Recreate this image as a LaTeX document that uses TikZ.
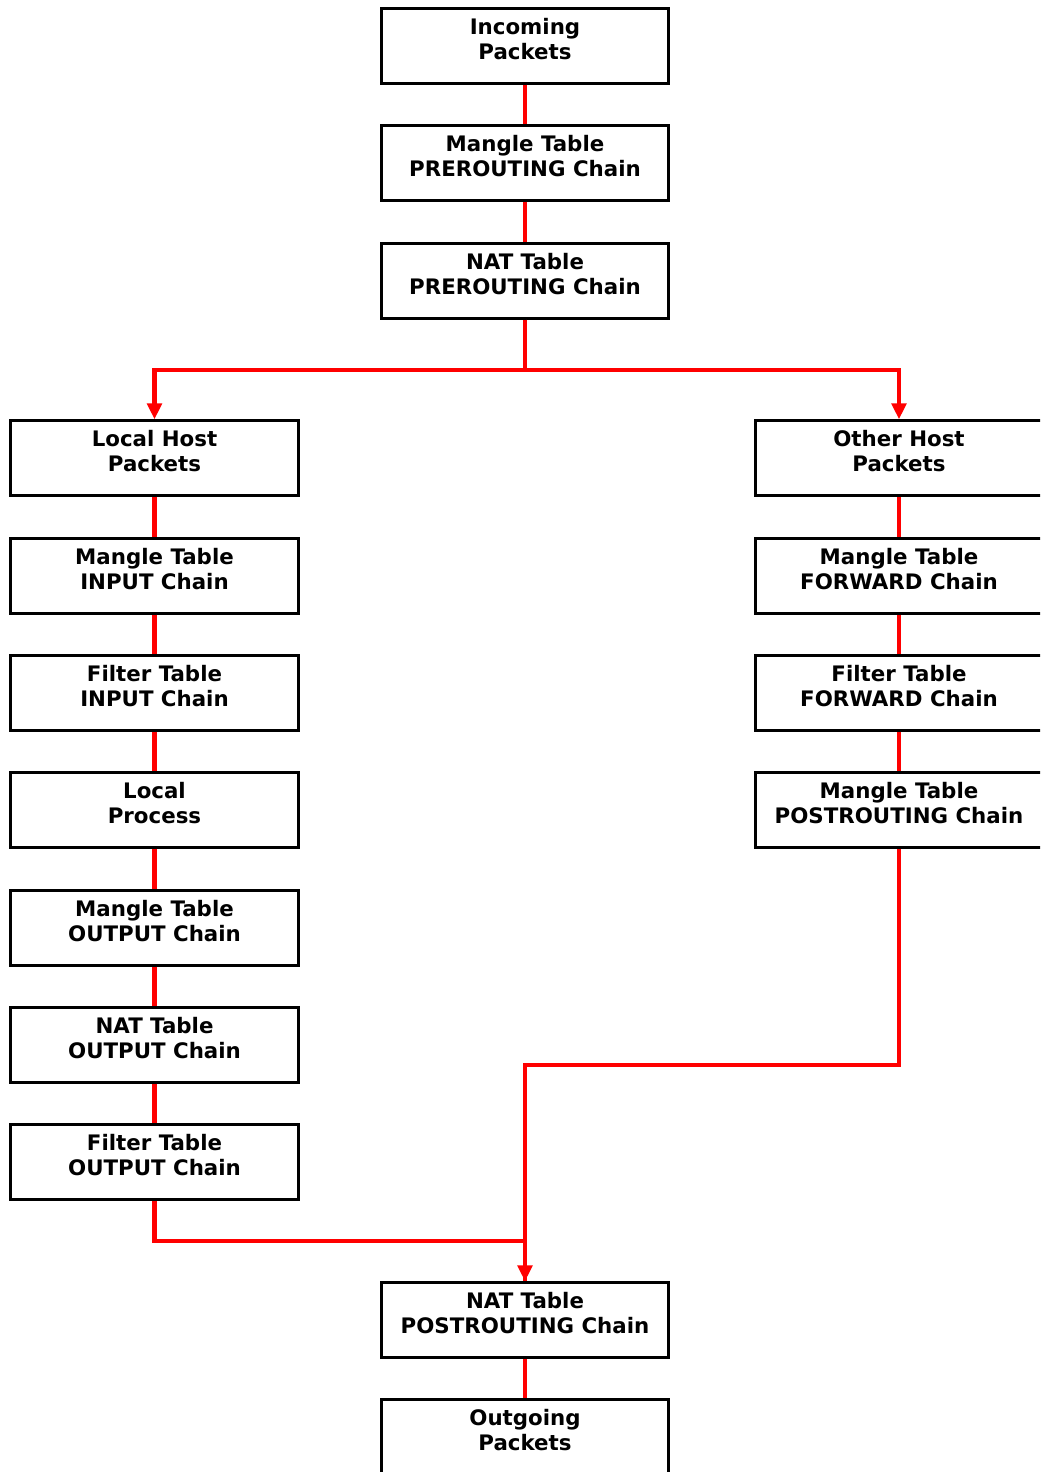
\documentclass[tikz,border=0pt]{standalone}
\usepackage{fontspec}
\setmainfont{DejaVu Sans}
\usetikzlibrary{arrows.meta}

\begin{document}
\begin{tikzpicture}[x=0.75pt, y=-0.75pt,
  box/.style={draw, line width=2.1pt, minimum width=215.5pt, inner sep=0pt,
    text height=19pt, text depth=37pt,
    font=\bfseries\fontsize{16}{18.75}\selectfont},
  flow/.style={red, line width=3.1pt},
  tip/.style={-{Triangle[width=11pt,length=12pt]}}]
  \newcommand{\twolines}[2]{\begin{tabular}[t]{@{}c@{}}#1\\#2\end{tabular}}
  \clip (0,0) rectangle (1040,1472);

  % main column
  \node[box] (inpk)    at (525,46)   {\twolines{Incoming}{Packets}};
  \node[box] (mpre)    at (525,163)  {\twolines{Mangle Table}{PREROUTING Chain}};
  \node[box] (npre)    at (525,281)  {\twolines{NAT Table}{PREROUTING Chain}};
  \node[box] (npost)   at (525,1320) {\twolines{NAT Table}{POSTROUTING Chain}};
  \node[box] (outpk)   at (525,1437) {\twolines{Outgoing}{Packets}};

  % local host side
  \node[box] (lhost)   at (154.5,458)  {\twolines{Local Host}{Packets}};
  \node[box] (min)     at (154.5,576)  {\twolines{Mangle Table}{INPUT Chain}};
  \node[box] (fin)     at (154.5,693)  {\twolines{Filter Table}{INPUT Chain}};
  \node[box] (lproc)   at (154.5,810)  {\twolines{Local}{Process}};
  \node[box] (mout)    at (154.5,928)  {\twolines{Mangle Table}{OUTPUT Chain}};
  \node[box] (nout)    at (154.5,1045) {\twolines{NAT Table}{OUTPUT Chain}};
  \node[box] (fout)    at (154.5,1162) {\twolines{Filter Table}{OUTPUT Chain}};

  % other host side
  \node[box] (ohost)   at (899,458) {\twolines{Other Host}{Packets}};
  \node[box] (mfwd)    at (899,576) {\twolines{Mangle Table}{FORWARD Chain}};
  \node[box] (ffwd)    at (899,693) {\twolines{Filter Table}{FORWARD Chain}};
  \node[box] (mpost)   at (899,810) {\twolines{Mangle Table}{POSTROUTING Chain}};

  \draw[flow] (inpk) -- (mpre);
  \draw[flow] (mpre) -- (npre);
  \draw[flow] (npost) -- (outpk);
  \draw[flow, tip] (npre.south) -- ++(0,50) -| (lhost.north);
  \draw[flow, tip] (npre.south) -- ++(0,50) -| (ohost.north);

  \draw[flow] (lhost) -- (min);
  \draw[flow] (min) -- (fin);
  \draw[flow] (fin) -- (lproc);
  \draw[flow] (lproc) -- (mout);
  \draw[flow] (mout) -- (nout);
  \draw[flow] (nout) -- (fout);

  \draw[flow] (ohost) -- (mfwd);
  \draw[flow] (mfwd) -- (ffwd);
  \draw[flow] (ffwd) -- (mpost);

  \draw[flow] (fout.south) -- ++(0,40) -| (npost.north);
  \draw[flow, tip] (mpost.south) -- ++(0,216) -| (npost.north);
\end{tikzpicture}
\end{document}
